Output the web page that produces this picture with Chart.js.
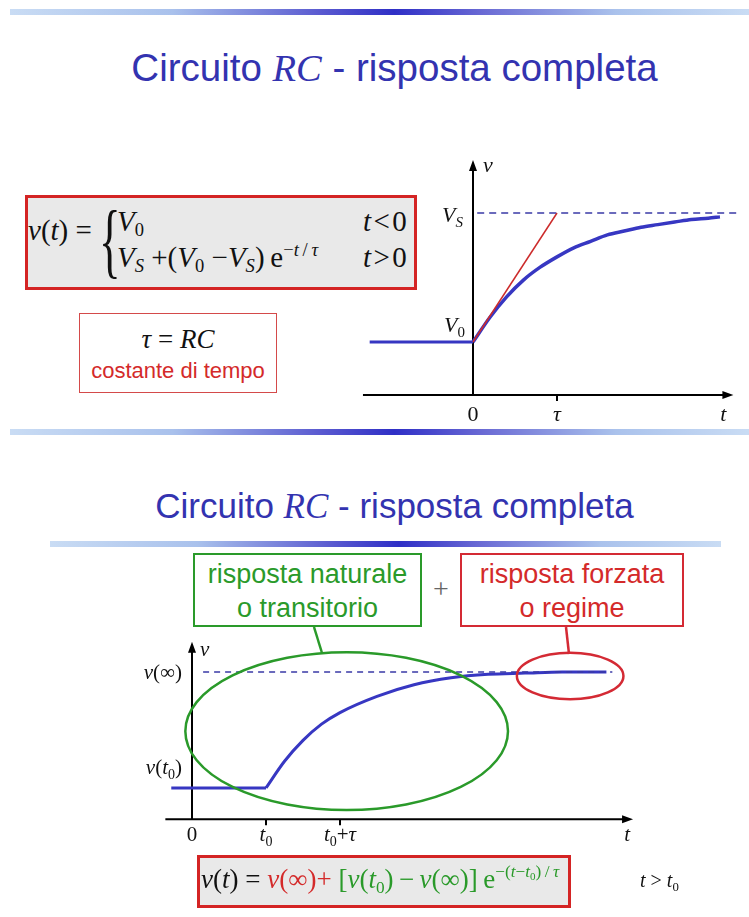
<!DOCTYPE html>
<html lang="it">
<head>
<meta charset="UTF-8">
<title>Circuito RC - risposta completa</title>
<script src="https://cdn.jsdelivr.net/npm/chart.js"></script>
<style>
  body { margin: 0; background: #fff; }
  .page { position: relative; width: 749px; height: 917px; overflow: hidden; background: #fff; }
  .abs { position: absolute; }
  .bar { position: absolute; height: 6px;
    background: linear-gradient(to right, #c9dcf4 0%, #a9c1ec 22%, #5a5ad0 42%, #2f2fc6 52%, #6a6ad4 64%, #aac2ec 82%, #c9dcf4 100%); }
  .title { position: absolute; left: 0; width: 789px; text-align: center; color: #3333b0;
    font-family: "Liberation Sans", Arial, sans-serif; line-height: 1; white-space: nowrap; }
  .title i { font-family: "Liberation Serif", "Times New Roman", serif; }
  .serif { font-family: "Liberation Serif", "Times New Roman", serif; color: #111; line-height: 1; white-space: nowrap; }
  .serif sub, .serif sup { font-size: 64%; line-height: 0; }
  .serif sub { vertical-align: -0.28em; }
  .serif sup { vertical-align: 0.62em; }
  .fbox { position: absolute; box-sizing: border-box; border: 3px solid #d42424; background: #e9e9e9; }
  .note { position: absolute; box-sizing: border-box; background: #fff; text-align: center;
    font-family: "Liberation Sans", Arial, sans-serif; line-height: 34px; font-size: 27px; }
  .green { color: #2a9a2a; }
  .red { color: #d42a2a; }
  canvas { position: absolute; }
</style>
</head>
<body>
<div class="page">
  <div class="bar" style="left:10px; top:9px; width:739px;"></div>
  <div class="title" style="top:49px; font-size:38.5px;">Circuito <i>RC</i> - risposta completa</div>

  <!-- formula della risposta completa -->
  <div class="fbox" style="left:25px; top:195px; width:392px; height:95px;"></div>
  <div class="abs serif" style="left:28px; top:216px; font-size:29px;"><i>v</i>(<i>t</i>) =</div>
  <div class="abs serif" style="left:99px; top:200px; font-size:82px; transform: scaleX(0.55); transform-origin: left top;">{</div>
  <div class="abs serif" style="left:117px; top:207px; font-size:29px;"><i>V</i><sub>0</sub></div>
  <div class="abs serif" style="left:363px; top:207px; font-size:29px;"><i>t</i>&#8202;&lt;&#8202;0</div>
  <div class="abs serif" style="left:117px; top:243px; font-size:29px;"><i>V<sub>S</sub></i> +(<i>V</i><sub>0</sub> &minus;<i>V<sub>S</sub></i>)&thinsp;e<sup>&minus;<i>t</i>&thinsp;/&thinsp;<i>τ</i></sup></div>
  <div class="abs serif" style="left:363px; top:243px; font-size:29px;"><i>t</i>&#8202;&gt;&#8202;0</div>

  <div class="note" style="left:79px; top:313px; width:198px; height:80px; border:1.5px solid #d44a4a;">
    <div class="serif" style="font-size:27px; margin-top:12px;"><i>τ</i> = <i>RC</i></div>
    <div class="red" style="font-size:22px; line-height:28px; margin-top:4px;">costante di tempo</div>
  </div>

  <canvas id="topChart" width="409" height="280" style="left:340px; top:150px;"></canvas>

  <div class="bar" style="left:10px; top:429px; width:739px;"></div>
  <div class="title" style="top:488px; font-size:35px;">Circuito <i>RC</i> - risposta completa</div>
  <div class="bar" style="left:50px; top:541px; width:671px;"></div>

  <div class="note green" style="left:193px; top:553px; width:229px; height:74px; border:2px solid #2a9a2a; padding-top:2px;">risposta naturale<br>o transitorio</div>
  <div class="abs serif" style="left:433px; top:575px; font-size:28px; color:#666;">+</div>
  <div class="note red" style="left:460px; top:553px; width:224px; height:74px; border:2px solid #d42a34; padding-top:2px;">risposta forzata<br>o regime</div>

  <canvas id="bottomChart" width="619" height="225" style="left:130px; top:630px;"></canvas>

  <svg class="abs" style="left:0; top:0;" width="749" height="917">
    <line x1="314" y1="627" x2="322" y2="653" stroke="#2a9a2a" stroke-width="2.5"/>
    <line x1="566" y1="627" x2="569" y2="654" stroke="#d42a34" stroke-width="2.5"/>
  </svg>

  <div class="fbox" style="left:197px; top:855px; width:374px; height:53px;"></div>
  <div class="abs serif" style="left:201px; top:866px; font-size:27px;"><i>v</i>(<i>t</i>) = <span class="red"><i>v</i>(∞)</span><span class="red">+</span> <span class="green">[<i>v</i>(<i>t</i><sub>0</sub>)&thinsp;&minus;&thinsp;<i>v</i>(∞)]&thinsp;e<sup>&minus;(<i>t</i>&minus;<i>t</i><sub>0</sub>)&thinsp;/&thinsp;<i>τ</i></sup></span></div>
  <div class="abs serif" style="left:640px; top:870px; font-size:20px;"><i>t</i> &gt; <i>t</i><sub>0</sub></div>
</div>

<script>
// top: charge from V0 toward VS (t in units of tau, v normalised: 0 = V0, 1 = VS)
const topFlatT = [-1.23, 0];
const topFlatV = [0, 0];
const topTime = [0, 0.2, 0.4, 0.6, 0.8, 1.0, 1.2, 1.4, 1.6, 1.8, 2.0, 2.2, 2.4, 2.6, 2.8, 2.94];
const topV    = [0, 0.19, 0.35, 0.48, 0.58, 0.66, 0.73, 0.78, 0.83, 0.86, 0.89, 0.91, 0.93, 0.95, 0.96, 0.97];
const tangentT = [0, 1];
const tangentV = [0, 1];
const topAsymT = [0.05, 3.15];
const topAsymV = [1, 1];
const topTickVals = [0, 1];

// bottom: same response starting at t0 (v normalised: 0 = v(t0), 1 = v(inf))
const botFlatT = [-0.28, 1];
const botFlatV = [0, 0];
const botTime = [1.0, 1.25, 1.5, 1.75, 2.0, 2.5, 3.0, 3.5, 4.0, 4.5, 5.0, 5.6];
const botV    = [0, 0.23, 0.41, 0.55, 0.65, 0.79, 0.89, 0.95, 0.98, 0.99, 1.0, 1.0];
const botAsymT = [0.15, 5.68];
const botAsymV = [1, 1];
const botTickVals = [1, 2];

const SERIF = '"Liberation Serif", "Times New Roman", serif';
const BLUE = '#3737c2';

function pts(xs, ys) { return xs.map((x, i) => ({ x: x, y: ys[i] })); }

// draws a label made of pieces (italic letters, subscripts)
function drawRich(ctx, parts, x, y, align) {
  let w = 0;
  parts.forEach(p => { ctx.font = p.f; w += ctx.measureText(p.t).width; });
  let cx = align === 'right' ? x - w : align === 'center' ? x - w / 2 : x;
  parts.forEach(p => {
    ctx.font = p.f;
    ctx.fillText(p.t, cx, y + (p.dy || 0));
    cx += ctx.measureText(p.t).width;
  });
}

function it(t, s) { return { t: t, f: 'italic ' + s + 'px ' + SERIF }; }
function rm(t, s) { return { t: t, f: s + 'px ' + SERIF }; }
function sub(t, s) { return { t: t, f: s + 'px ' + SERIF, dy: 5 }; }
function isub(t, s) { return { t: t, f: 'italic ' + s + 'px ' + SERIF, dy: 5 }; }

const axesPlugin = {
  id: 'axes',
  beforeDatasetsDraw(chart, args, o) {
    const { ctx, scales: { x, y } } = chart;
    const ax = x.getPixelForValue(0);
    const ay = y.getPixelForValue(o.yFrom);
    const left = x.getPixelForValue(o.xFrom), right = x.getPixelForValue(o.xTo);
    const top = y.getPixelForValue(o.yTo);
    ctx.save();
    ctx.strokeStyle = '#000';
    ctx.fillStyle = '#000';
    ctx.lineWidth = 2;
    ctx.beginPath();
    ctx.moveTo(left, ay); ctx.lineTo(right - 8, ay);
    ctx.moveTo(ax, ay); ctx.lineTo(ax, top + 8);
    o.ticks.forEach(t => {
      const px = x.getPixelForValue(t);
      ctx.moveTo(px, ay); ctx.lineTo(px, ay + 6);
    });
    ctx.stroke();
    ctx.beginPath();
    ctx.moveTo(right, ay); ctx.lineTo(right - 11, ay - 4); ctx.lineTo(right - 11, ay + 4); ctx.closePath();
    ctx.moveTo(ax, top); ctx.lineTo(ax - 4, top + 11); ctx.lineTo(ax + 4, top + 11); ctx.closePath();
    ctx.fill();
    ctx.restore();
  },
  afterDatasetsDraw(chart, args, o) {
    const { ctx, scales: { x, y } } = chart;
    ctx.save();
    (o.ellipses || []).forEach(e => {
      const cx = x.getPixelForValue(e.x), cy = y.getPixelForValue(e.y);
      const rx = Math.abs(x.getPixelForValue(e.x + e.rx) - cx);
      const ry = Math.abs(y.getPixelForValue(e.y + e.ry) - cy);
      ctx.strokeStyle = e.color;
      ctx.lineWidth = 2.5;
      ctx.beginPath();
      ctx.ellipse(cx, cy, rx, ry, 0, 0, Math.PI * 2);
      ctx.stroke();
    });
    ctx.fillStyle = '#111';
    ctx.textBaseline = 'alphabetic';
    o.labels.forEach(l => {
      drawRich(ctx, l.parts, x.getPixelForValue(l.x) + (l.dx || 0), y.getPixelForValue(l.y) + (l.dy || 0), l.align);
    });
    ctx.restore();
  }
};

function lineSet(data, color, width, extra) {
  return Object.assign({
    data: data, showLine: true, borderColor: color, borderWidth: width,
    pointRadius: 0, fill: false, clip: false
  }, extra || {});
}

const commonOpts = (xmin, xmax, ymin, ymax, pad) => ({
  responsive: false,
  animation: false,
  events: [],
  layout: { padding: pad },
  plugins: { legend: { display: false }, tooltip: { enabled: false } },
  scales: {
    x: { type: 'linear', min: xmin, max: xmax, display: false },
    y: { type: 'linear', min: ymin, max: ymax, display: false }
  }
});

const topOpts = commonOpts(-1.3, 3.15, -0.41, 1.4, { left: 23.8, right: 11.4, top: 11.4, bottom: 35.1 });
topOpts.plugins.axes = {
  xFrom: -1.31, xTo: 3.1, yFrom: -0.41, yTo: 1.41, ticks: [1],
  labels: [
    { parts: [it('v', 22)], x: 0, y: 1.41, dx: 10, dy: 12 },
    { parts: [it('V', 22), isub('S', 15)], x: 0, y: 1, dx: -10, dy: 9, align: 'right' },
    { parts: [it('V', 22), sub('0', 15)], x: 0, y: 0, dx: -8, dy: -10, align: 'right' },
    { parts: [rm('0', 22)], x: topTickVals[0], y: -0.41, dy: 26, align: 'center' },
    { parts: [it('τ', 22)], x: topTickVals[1], y: -0.41, dy: 26, align: 'center' },
    { parts: [it('t', 22)], x: 2.98, y: -0.41, dy: 26, align: 'center' }
  ]
};

new Chart(document.getElementById('topChart'), {
  type: 'scatter',
  data: {
    datasets: [
      lineSet(pts(topAsymT, topAsymV), '#3a3aa6', 1.5, { borderDash: [7, 5] }),
      lineSet(pts(tangentT, tangentV), '#cc2b2b', 1.5),
      lineSet(pts(topFlatT, topFlatV), BLUE, 3),
      lineSet(pts(topTime, topV), BLUE, 3.5, { cubicInterpolationMode: 'monotone' })
    ]
  },
  options: topOpts,
  plugins: [axesPlugin]
});

const botOpts = commonOpts(-0.35, 5.97, -0.27, 1.26, { left: 36.1, right: 115.2, top: 11.8, bottom: 35.7 });
botOpts.plugins.axes = {
  xFrom: -0.36, xTo: 5.96, yFrom: -0.27, yTo: 1.26, ticks: botTickVals,
  ellipses: [
    { x: 2.09, y: 0.49, rx: 2.18, ry: 0.68, color: '#2a9a2a' },
    { x: 5.11, y: 0.965, rx: 0.72, ry: 0.2, color: '#d42a34' }
  ],
  labels: [
    { parts: [it('v', 21)], x: 0, y: 1.26, dx: 8, dy: 14 },
    { parts: [it('v', 21), rm('(∞)', 21)], x: 0, y: 1, dx: -10, dy: 7, align: 'right' },
    { parts: [it('v', 21), rm('(', 21), it('t', 21), sub('0', 14), rm(')', 21)], x: 0, y: 0, dx: -10, dy: -14, align: 'right' },
    { parts: [rm('0', 21)], x: 0, y: -0.27, dy: 22, align: 'center' },
    { parts: [it('t', 21), sub('0', 14)], x: botTickVals[0], y: -0.27, dy: 22, align: 'center' },
    { parts: [it('t', 21), sub('0', 14), rm('+', 21), it('τ', 21)], x: botTickVals[1], y: -0.27, dy: 22, align: 'center' },
    { parts: [it('t', 21)], x: 5.88, y: -0.27, dy: 22, align: 'center' }
  ]
};

new Chart(document.getElementById('bottomChart'), {
  type: 'scatter',
  data: {
    datasets: [
      lineSet(pts(botAsymT, botAsymV), '#3a3aa6', 1.5, { borderDash: [6, 5] }),
      lineSet(pts(botFlatT, botFlatV), BLUE, 3),
      lineSet(pts(botTime, botV), BLUE, 3, { cubicInterpolationMode: 'monotone' })
    ]
  },
  options: botOpts,
  plugins: [axesPlugin]
});
</script>
</body>
</html>
